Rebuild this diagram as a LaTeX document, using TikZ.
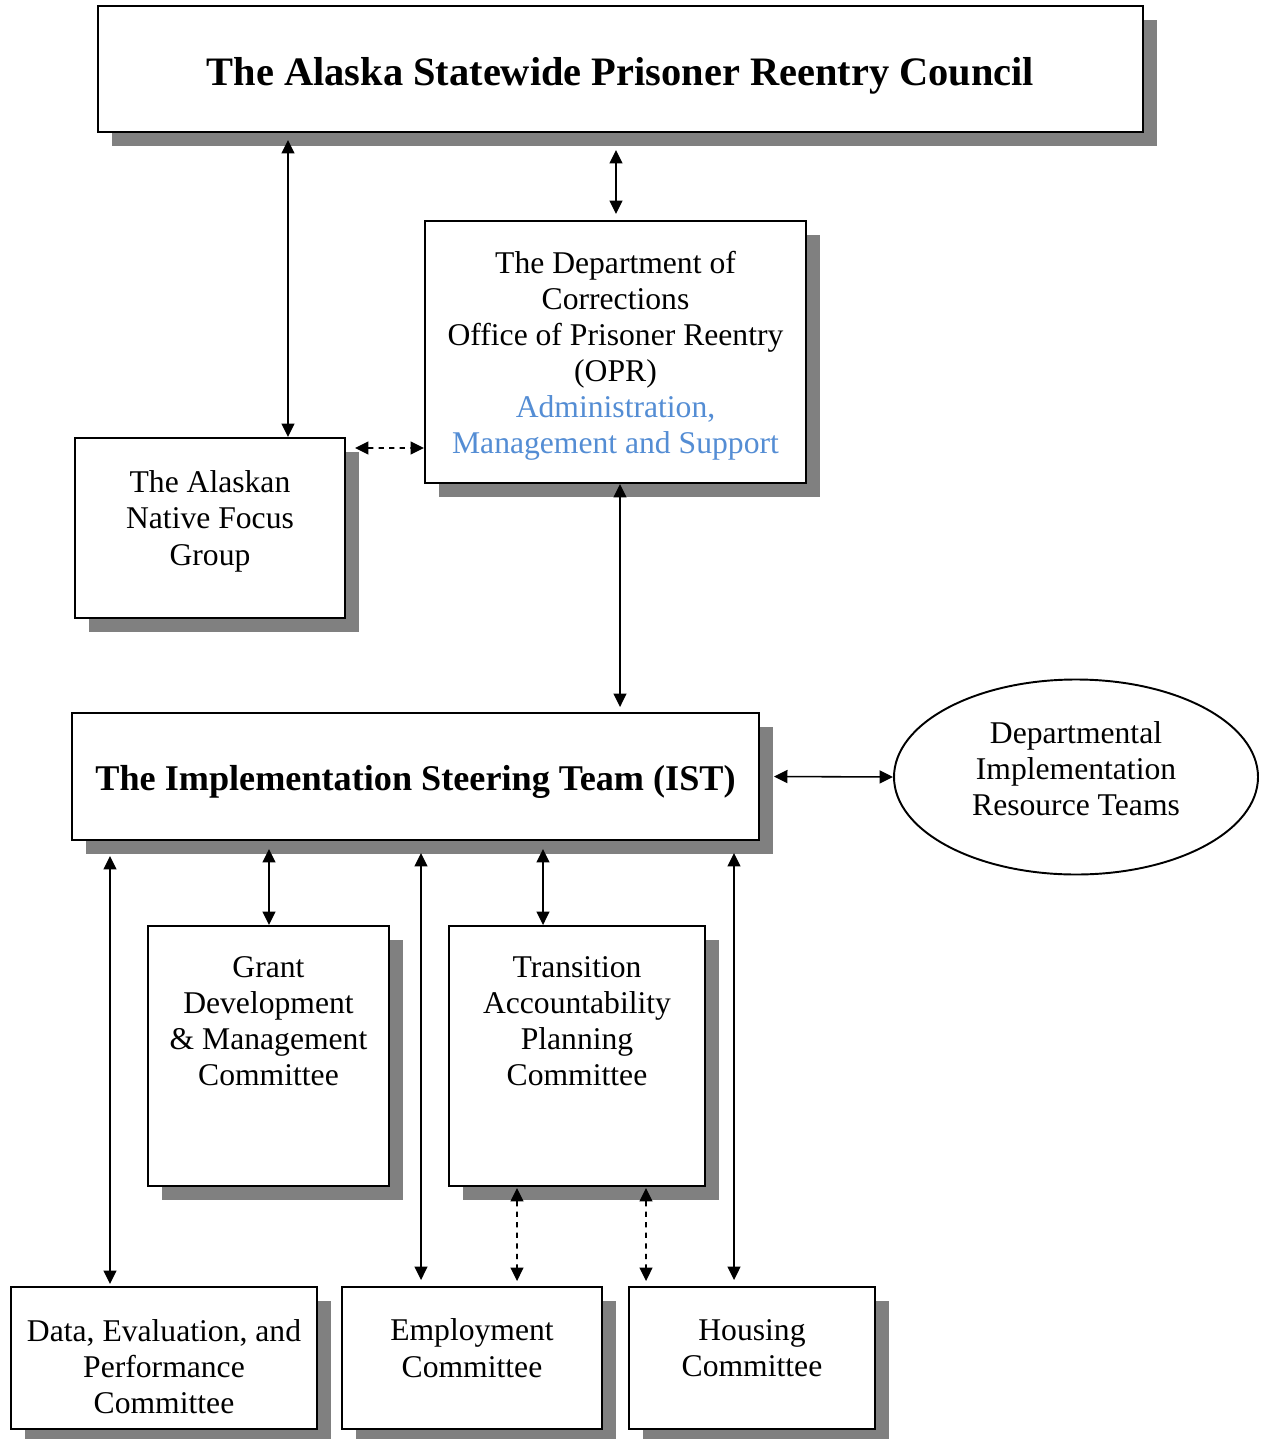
\documentclass[tikz,border=0pt]{standalone}
\usepackage{fontspec}
\setmainfont{Liberation Serif}
\usetikzlibrary{shapes.geometric,shadows,arrows.meta}
\definecolor{opsblue}{RGB}{84,141,212}
\begin{document}
\begin{tikzpicture}[
			box/.style = {draw, line width=1.1pt, fill=white, align=center,
				drop shadow={shadow xshift=0.28cm, shadow yshift=-0.28cm, fill=black!50, opacity=1},
				font=\fontsize{18}{20.5}\selectfont},
			titlebox/.style = {box, font=\fontsize{23}{26}\selectfont\bfseries},
			both/.style = {line width=0.9pt, {Triangle[length=0.27cm,width=0.26cm]}-{Triangle[length=0.27cm,width=0.26cm]}}]
			
			\useasboundingbox (0,0) rectangle (25.2,-28.78);
			
			\node[titlebox, minimum width=20.9cm, minimum height=2.52cm, text height=0.83cm] (council) at (12.41,-1.38)
				{The Alaska Statewide Prisoner Reentry Council};
			\node[box, minimum width=7.62cm, minimum height=5.24cm, text depth=0cm] (doc) at (12.31,-7.04)
				{The Department of\\ Corrections\\ Office of Prisoner Reentry\\ (OPR)\\
				\textcolor{opsblue}{Administration,}\\ \textcolor{opsblue}{Management and Support}};
			\node[box, minimum width=5.4cm, minimum height=3.6cm, text depth=0.4cm] (native) at (4.2,-10.56)
				{The Alaskan\\ Native Focus\\ Group};
			\node[titlebox, font=\fontsize{20.6}{24}\selectfont\bfseries, minimum width=13.74cm, minimum height=2.54cm,
				text height=0.73cm] (ist) at (8.31,-15.53)
				{The Implementation Steering Team (IST)};
			\node[draw, line width=1.1pt, ellipse, minimum width=7.28cm, minimum height=3.9cm, align=center,
				text depth=0.34cm, font=\fontsize{18}{20.5}\selectfont] (resource) at (21.52,-15.54)
				{Departmental\\ Implementation\\ Resource Teams};
			
			\node[box, minimum width=4.82cm, minimum height=5.2cm, text depth=1.4cm] (grant) at (5.37,-21.12)
				{Grant\\ Development\\ \& Management\\ Committee};
			\node[box, minimum width=5.12cm, minimum height=5.2cm, text depth=1.4cm] (transition) at (11.54,-21.12)
				{Transition\\ Accountability\\ Planning\\ Committee};
			
			\node[box, minimum width=6.12cm, minimum height=2.84cm] (data) at (3.28,-27.16)
				{\rule{0pt}{0.8cm}Data, Evaluation, and\\ Performance\\ Committee};
			\node[box, minimum width=5.2cm, minimum height=2.84cm, text depth=0.4cm] (employment) at (9.44,-27.16)
				{Employment\\ Committee};
			\node[box, minimum width=4.92cm, minimum height=2.84cm, text depth=0.4cm] (housing) at (15.04,-27.16)
				{Housing\\ Committee};
			
			% links to the council and the OPR
			\draw[both] ([xshift=-6.65cm,yshift=-0.14cm]council.south) -- ([xshift=1.56cm]native.north);
			\draw[both] ([xshift=-0.09cm,yshift=-0.34cm]council.south) -- ([xshift=0.01cm,yshift=0.12cm]doc.north);
			\draw[both, dashed] ([xshift=0.18cm,yshift=1.6cm]native.east) -- ([yshift=-1.92cm]doc.west);
			\draw[both] ([xshift=0.09cm]doc.south) -- ([xshift=4.09cm,yshift=0.1cm]ist.north);
			\draw[both] ([xshift=0.28cm]ist.east) -- (resource.west);
			
			% committees under the IST
			\draw[both] ([xshift=-6.11cm,yshift=-0.3cm]ist.south) -- ([xshift=-1.08cm,yshift=0.04cm]data.north);
			\draw[both] ([xshift=-2.93cm,yshift=-0.16cm]ist.south) -- ([xshift=0.01cm]grant.north);
			\draw[both] ([xshift=0.11cm,yshift=-0.24cm]ist.south) -- ([xshift=-1.02cm,yshift=0.12cm]employment.north);
			\draw[both] ([xshift=2.55cm,yshift=-0.16cm]ist.south) -- ([xshift=-0.68cm]transition.north);
			\draw[both] ([xshift=6.37cm,yshift=-0.24cm]ist.south) -- ([xshift=-0.36cm,yshift=0.12cm]housing.north);
			\draw[both, dashed] ([xshift=-1.2cm,yshift=-0.02cm]transition.south) -- ([xshift=0.9cm,yshift=0.1cm]employment.north);
			\draw[both, dashed] ([xshift=1.38cm,yshift=-0.02cm]transition.south) -- ([xshift=-2.12cm,yshift=0.1cm]housing.north);
			\end{tikzpicture}
\end{document}
